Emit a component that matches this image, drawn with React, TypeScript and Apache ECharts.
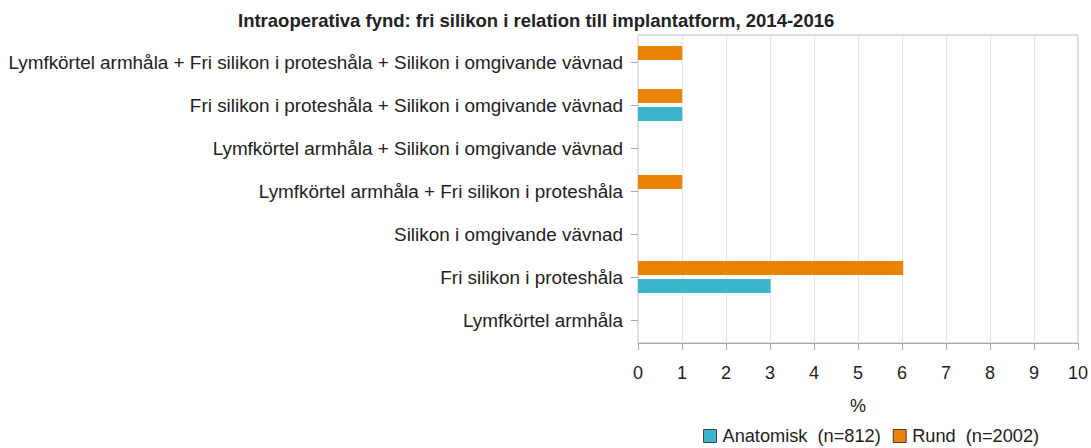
import React, { useEffect, useRef } from "react";
import * as echarts from "echarts";

const categories = [
  "Lymfkörtel armhåla",
  "Fri silikon i proteshåla",
  "Silikon i omgivande vävnad",
  "Lymfkörtel armhåla + Fri silikon i proteshåla",
  "Lymfkörtel armhåla + Silikon i omgivande vävnad",
  "Fri silikon i proteshåla + Silikon i omgivande vävnad",
  "Lymfkörtel armhåla + Fri silikon i proteshåla + Silikon i omgivande vävnad",
];
const anatomisk = [0, 3, 0, 0, 0, 1, 0];
const rund = [0, 6, 0, 1, 0, 1, 1];
const seriesNames = ["Anatomisk\u00a0 (n=812)", "Rund\u00a0 (n=2002)"];
const title = "Intraoperativa fynd: fri silikon i relation till implantatform, 2014-2016";

const FONT = "Liberation Sans, Arial, sans-serif";

export default function App() {
  const ref = useRef<HTMLDivElement>(null);
  useEffect(() => {
    if (!ref.current) return;
    const chart = echarts.init(ref.current, null, { renderer: "svg" });
    chart.setOption({
      animation: false,
      textStyle: { fontFamily: FONT },
      title: {
        text: title,
        left: 233,
        top: 6,
        textStyle: { fontFamily: FONT, fontSize: 18.5, fontWeight: "bold", color: "#222" },
      },
      legend: {
        data: seriesNames,
        left: 703,
        top: 427,
        padding: 0,
        itemWidth: 13,
        itemHeight: 13,
        itemGap: 12,
        icon: "rect",
        itemStyle: { borderColor: "#444", borderWidth: 1 },
        textStyle: { fontFamily: FONT, fontSize: 18.2, color: "#222", padding: [0, 0, 0, 1] },
      },
      grid: [
        {
          left: 638,
          right: 11,
          top: 35,
          bottom: 105,
          show: true,
          borderColor: "#bdbdbd",
          borderWidth: 1,
        },
        {
          left: 638,
          right: 11,
          top: 40.5,
          bottom: 106.5,
          show: false,
        },
      ],
      xAxis: [
        {
          type: "value",
          gridIndex: 0,
          min: 0,
          max: 10,
          interval: 1,
          name: "%",
          nameLocation: "middle",
          nameGap: 54,
          nameTextStyle: { fontFamily: FONT, fontSize: 18, color: "#222" },
          axisLine: { show: true, lineStyle: { color: "#aaa" } },
          axisTick: { show: true, length: 7, lineStyle: { color: "#aaa" } },
          axisLabel: { fontSize: 18, color: "#222", margin: 21, fontFamily: FONT },
          splitLine: { show: true, lineStyle: { color: "#e6e6e6" } },
        },
        {
          type: "value",
          gridIndex: 1,
          min: 0,
          max: 10,
          interval: 1,
          show: false,
        },
      ],
      yAxis: [
        {
          type: "value",
          gridIndex: 0,
          min: 0,
          max: 1,
          show: false,
        },
        {
          type: "category",
          gridIndex: 1,
          data: categories,
          axisLine: { show: false },
          axisTick: { show: true, alignWithLabel: true, length: 7, lineStyle: { color: "#aaa" } },
          axisLabel: { fontSize: 18.9, color: "#222", margin: 15, fontFamily: FONT },
          splitLine: { show: false },
        },
      ],
      series: [
        {
          name: seriesNames[1],
          type: "bar",
          xAxisIndex: 1,
          yAxisIndex: 1,
          data: rund,
          barWidth: 14,
          barGap: "28%",
          itemStyle: { color: "#E98300" },
        },
        {
          name: seriesNames[0],
          type: "bar",
          xAxisIndex: 1,
          yAxisIndex: 1,
          data: anatomisk,
          barWidth: 14,
          barGap: "28%",
          itemStyle: { color: "#3BB6CE" },
        },
      ],
    });
    return () => chart.dispose();
  }, []);
  return <div ref={ref} style={{ width: 1091, height: 448, position: "absolute", left: 0, top: 0 }} />;
}
